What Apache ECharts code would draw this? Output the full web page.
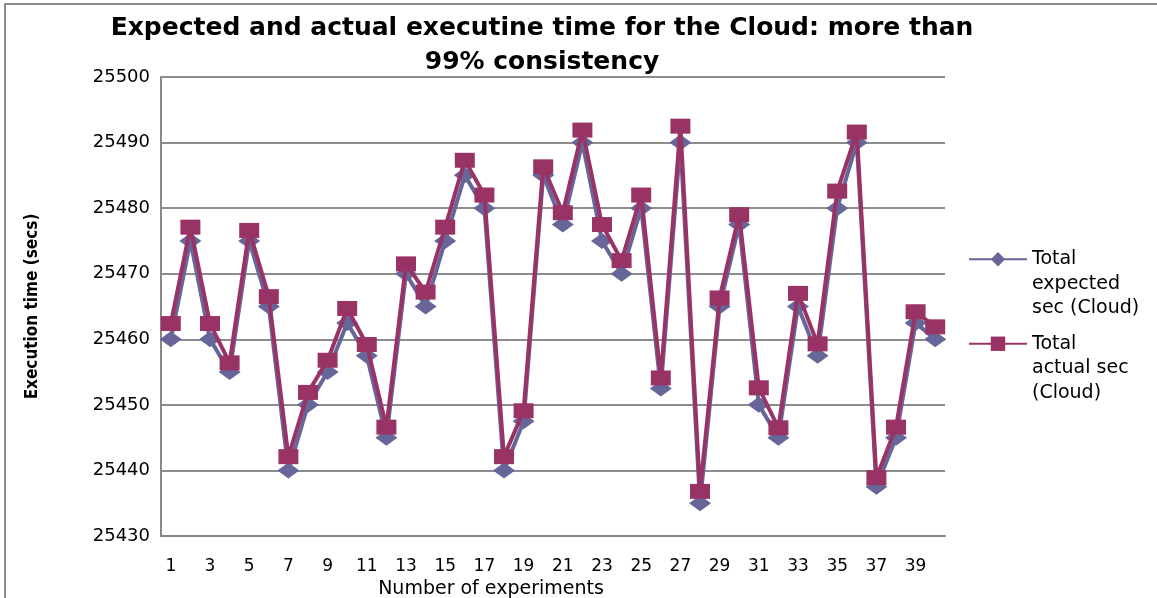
<!DOCTYPE html>
<html><head><meta charset="utf-8">
<script src="https://cdn.jsdelivr.net/npm/echarts@6/dist/echarts.min.js"></script>
<style>html,body{margin:0;padding:0;background:#fff}#c{width:1157px;height:598px}</style>
</head><body><div id="c"></div>
<script>
const categories = Array.from({length:40},(_,i)=>String(i+1));
const expected = [25460,25475,25460,25455,25475,25465,25440,25450,25455,25462.5,
  25457.5,25445,25470,25465,25475,25485,25480,25440,25447.5,25485,
  25477.5,25490,25475,25470,25480,25452.5,25490,25435,25465,25477.5,
  25450,25445,25465,25457.5,25480,25490,25437.5,25445,25462.5,25460];
const actual = [25462.4,25477.1,25462.4,25456.4,25476.6,25466.5,25442.1,25451.9,25456.8,25464.7,
  25459.2,25446.6,25471.5,25467.2,25477.1,25487.3,25482,25442.1,25449.1,25486.3,
  25479.3,25491.9,25477.5,25472,25482,25454.1,25492.5,25436.8,25466.3,25479,
  25452.6,25446.5,25467,25459.3,25482.6,25491.6,25438.9,25446.6,25464.2,25461.9];
const yTicks = {min:25430, max:25500, interval:10};
const seriesNames = ['Total expected sec (Cloud)','Total actual sec (Cloud)'];
const legendLabels = ['Total\nexpected\nsec (Cloud)', 'Total\nactual sec\n(Cloud)'];

const chart = echarts.init(document.getElementById('c'));
const fontMain = '"DejaVu Sans", sans-serif';
chart.setOption({
  animation:false,
  backgroundColor:'#fff',
  title:{
    text:'Expected and actual executine time for the Cloud: more than\n99% consistency',
    left:537, top:6, textAlign:'center',
    textStyle:{fontFamily:fontMain, fontWeight:'bold', fontSize:25, color:'#000', lineHeight:34}
  },
  graphic:[{type:'rect', shape:{x:5,y:4,width:1160,height:600}, style:{fill:null, stroke:'#8c8c8c', lineWidth:2}, silent:true}],
  legend:{
    orient:'vertical', left:968, top:198, padding:0, itemWidth:58, itemHeight:18, itemGap:-38,
    data:[seriesNames[0], seriesNames[1]],
    formatter:function(n){ return '\n\n' + legendLabels[seriesNames.indexOf(n)]; },
    textStyle:{fontFamily:fontMain, fontSize:19, color:'#000', lineHeight:24.5}
  },
  grid:{left:161, right:212, top:77, bottom:62, outerBoundsMode:'none', containLabel:false},
  xAxis:{
    type:'category', data:categories, boundaryGap:true,
    name:'Number of experiments', nameLocation:'middle', nameGap:40,
    nameTextStyle:{fontFamily:fontMain, fontSize:19, color:'#000', padding:[0,124,0,0]},
    axisLine:{show:true, lineStyle:{color:'#888', width:2}},
    axisTick:{show:false},
    axisLabel:{interval:1, fontFamily:fontMain, fontSize:17, color:'#000', margin:22}
  },
  yAxis:{
    type:'value', min:yTicks.min, max:yTicks.max, interval:yTicks.interval,
    name:'Execution time (secs)', nameLocation:'middle', nameGap:120, nameRotate:90,
    nameTextStyle:{fontFamily:'"Liberation Sans Narrow","DejaVu Sans Condensed",sans-serif', fontWeight:'bold', fontSize:17, color:'#000'},
    axisLine:{show:true, lineStyle:{color:'#888', width:2}},
    axisTick:{show:false},
    splitLine:{lineStyle:{color:'#8c8c8c', width:2}},
    axisLabel:{fontFamily:fontMain, fontSize:18, color:'#000', margin:11, formatter:function(v){return String(v);}}
  },
  series:[
    {name:seriesNames[0], type:'line', data:expected, symbol:'diamond', symbolSize:[22,16], showAllSymbol:true,
     lineStyle:{color:'#666699', width:4}, itemStyle:{color:'#666699'}, z:2},
    {name:seriesNames[1], type:'line', data:actual, symbol:'rect', symbolSize:[20,15], showAllSymbol:true,
     lineStyle:{color:'#993366', width:4}, itemStyle:{color:'#993366'}, z:3}
  ]
});
</script></body></html>
